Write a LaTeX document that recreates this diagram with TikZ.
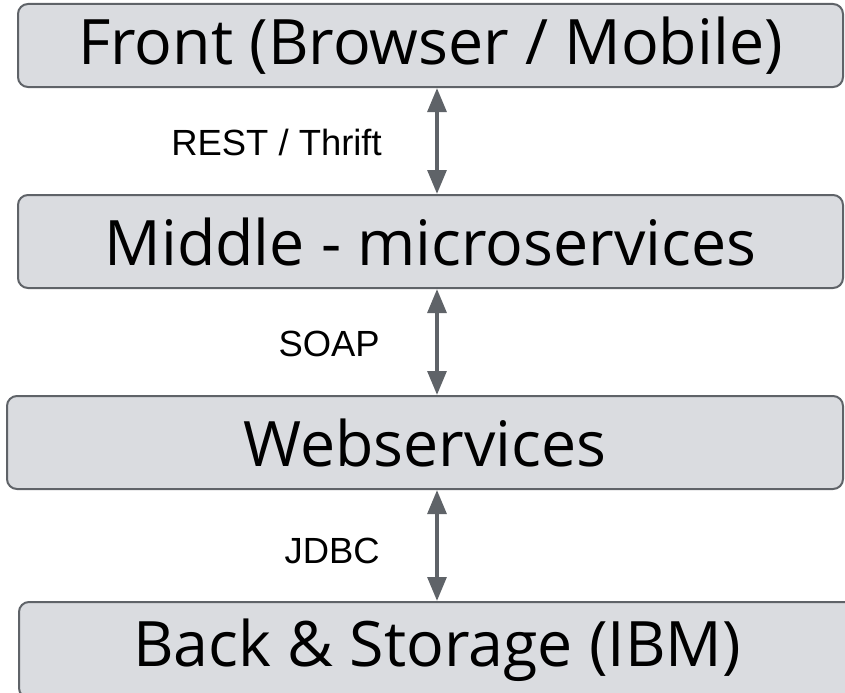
\documentclass[tikz,border=0pt]{standalone}
\usepackage{fontspec}
\setmainfont{Open Sans}
\newfontfamily\labelfont{Liberation Sans}
\usetikzlibrary{arrows.meta}
\definecolor{boxfill}{HTML}{DADCE0}
\definecolor{boxline}{HTML}{5F6368}
\tikzset{
  layer/.style={draw=boxline, fill=boxfill, line width=1.5pt, rounded corners=7.5pt,
    inner sep=0pt, font=\fontsize{47}{56}\selectfont},
  conn/.style={draw=boxline, line width=3pt,
    {Triangle[length=18pt,width=14pt]}-{Triangle[length=18pt,width=14pt]}},
  proto/.style={anchor=east, inner sep=0pt, font=\labelfont\fontsize{27.3}{32}\selectfont}
}
\begin{document}
\begin{tikzpicture}[x=0.75pt,y=-0.75pt]
  \useasboundingbox (0,0) rectangle (845,692);
  \clip (0,0) rectangle (845,692);
  % the four layers of the stack
  \node[layer, minimum width=825*0.75pt, minimum height=83*0.75pt] (front) at (430.5,45.5) {Front (Browser / Mobile)};
  \node[layer, minimum width=825*0.75pt, minimum height=93*0.75pt] (middle) at (430.5,241.5) {Middle - microservices};
  \node[layer, minimum width=836*0.75pt, minimum height=93*0.75pt] (web) at (425,442.5) {Webservices};
  \node[layer, minimum width=836*0.75pt, minimum height=96*0.75pt] (back) at (437,650) {Back \& Storage (IBM)};
  % vertical axis of the connectors
  \coordinate (ax) at (437,0);
  \draw[conn] (front.south -| ax) -- (middle.north -| ax);
  \draw[conn] (middle.south -| ax) -- (web.north -| ax);
  \draw[conn] (web.south -| ax) -- (back.north -| ax);
  % protocol labels
  \node[proto] (l1) at (382,142) {REST / Thrift};
  \node[proto] (l2) at (380,344) {SOAP};
  \node[proto] (l3) at (380,551) {JDBC};
\end{tikzpicture}
\end{document}
